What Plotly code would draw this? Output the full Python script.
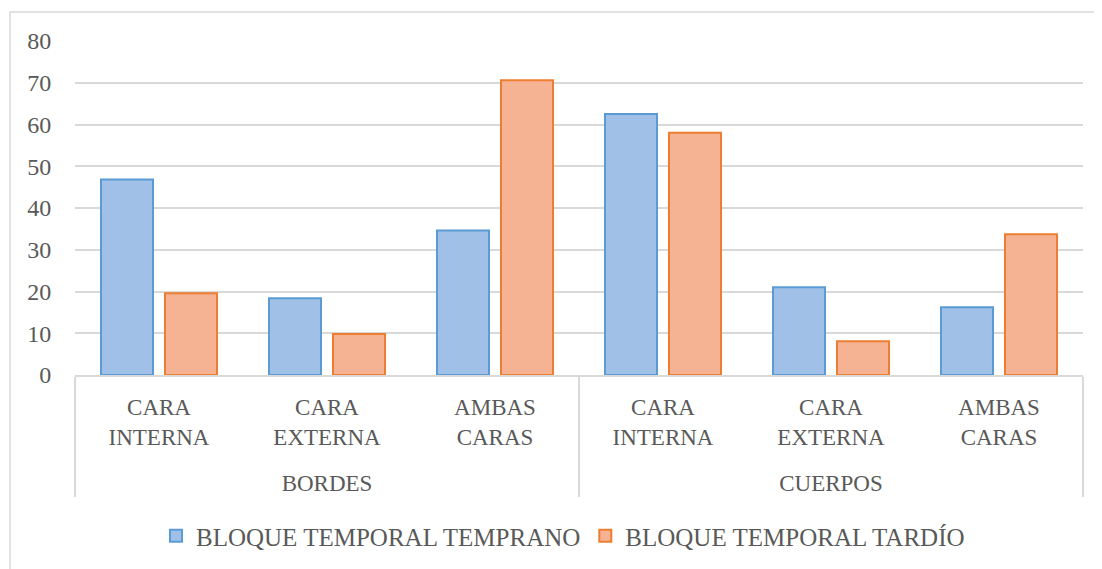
import plotly.graph_objects as go

groups = ["BORDES", "BORDES", "BORDES", "CUERPOS", "CUERPOS", "CUERPOS"]
categories = ["CARA<br>INTERNA", "CARA<br>EXTERNA", "AMBAS<br>CARAS",
              "CARA<br>INTERNA", "CARA<br>EXTERNA", "AMBAS<br>CARAS"]
temprano = [46.8, 18.4, 34.6, 62.5, 21.0, 16.2]
tardio = [19.6, 9.8, 70.6, 58.0, 8.1, 33.7]
series_names = ["BLOQUE TEMPORAL TEMPRANO", "BLOQUE TEMPORAL TARDÍO"]
y_ticks = [0, 10, 20, 30, 40, 50, 60, 70, 80]

FONT = "Liberation Serif"
GRAY = "#595959"
LINE = "#D9D9D9"

# inner labels get a trailing blank line so the group labels sit lower
cat_labels = [c + "<br> " for c in categories]

fig = go.Figure()
fig.add_trace(go.Bar(x=[groups, cat_labels], y=temprano, name=series_names[0],
                     marker=dict(color="#A1C0E7", line=dict(color="#5B9BD5", width=2))))
fig.add_trace(go.Bar(x=[groups, cat_labels], y=tardio, name=series_names[1],
                     marker=dict(color="#F6B393", line=dict(color="#ED7D31", width=2))))

# page body has an 8px margin, so figure coordinates are screen minus 8
W, H = 1094, 561
ml, mr, mt, mb = 67, 19, 33, 193
pw, ph = W - ml - mr, H - mt - mb


def px(fx):
    return (fx - ml) / pw


def py(fy):
    return (H - mb - fy) / ph


fig.update_layout(
    width=W, height=H,
    margin=dict(l=ml, r=mr, t=mt, b=mb),
    paper_bgcolor="white", plot_bgcolor="white",
    font=dict(family=FONT, color=GRAY, size=23),
    barmode="group", bargap=0.238, bargroupgap=0.1875,
    showlegend=True,
    legend=dict(orientation="h", x=px(555), xanchor="center", y=py(528), yanchor="middle",
                font=dict(size=25, family=FONT, color=GRAY), itemwidth=30,
                traceorder="normal"),
    xaxis=dict(showline=True, linecolor=LINE, linewidth=1.5, automargin=False,
               showdividers=True, dividercolor=LINE, dividerwidth=1.5,
               ticklabelstandoff=11,
               tickfont=dict(size=23, family=FONT, color=GRAY)),
    yaxis=dict(range=[0, 80], tickvals=y_ticks, showgrid=True, gridcolor=LINE,
               gridwidth=1.5, zeroline=False, ticks="outside", ticklen=18, automargin=False,
               tickcolor="rgba(0,0,0,0)", tickfont=dict(size=24, family=FONT, color=GRAY)),
    shapes=[dict(type="rect", xref="paper", yref="paper",
                 x0=px(2), x1=px(W + 10), y0=py(H + 10), y1=py(4),
                 line=dict(color=LINE, width=1.5), layer="below")],
)
fig.write_html("out.html")
